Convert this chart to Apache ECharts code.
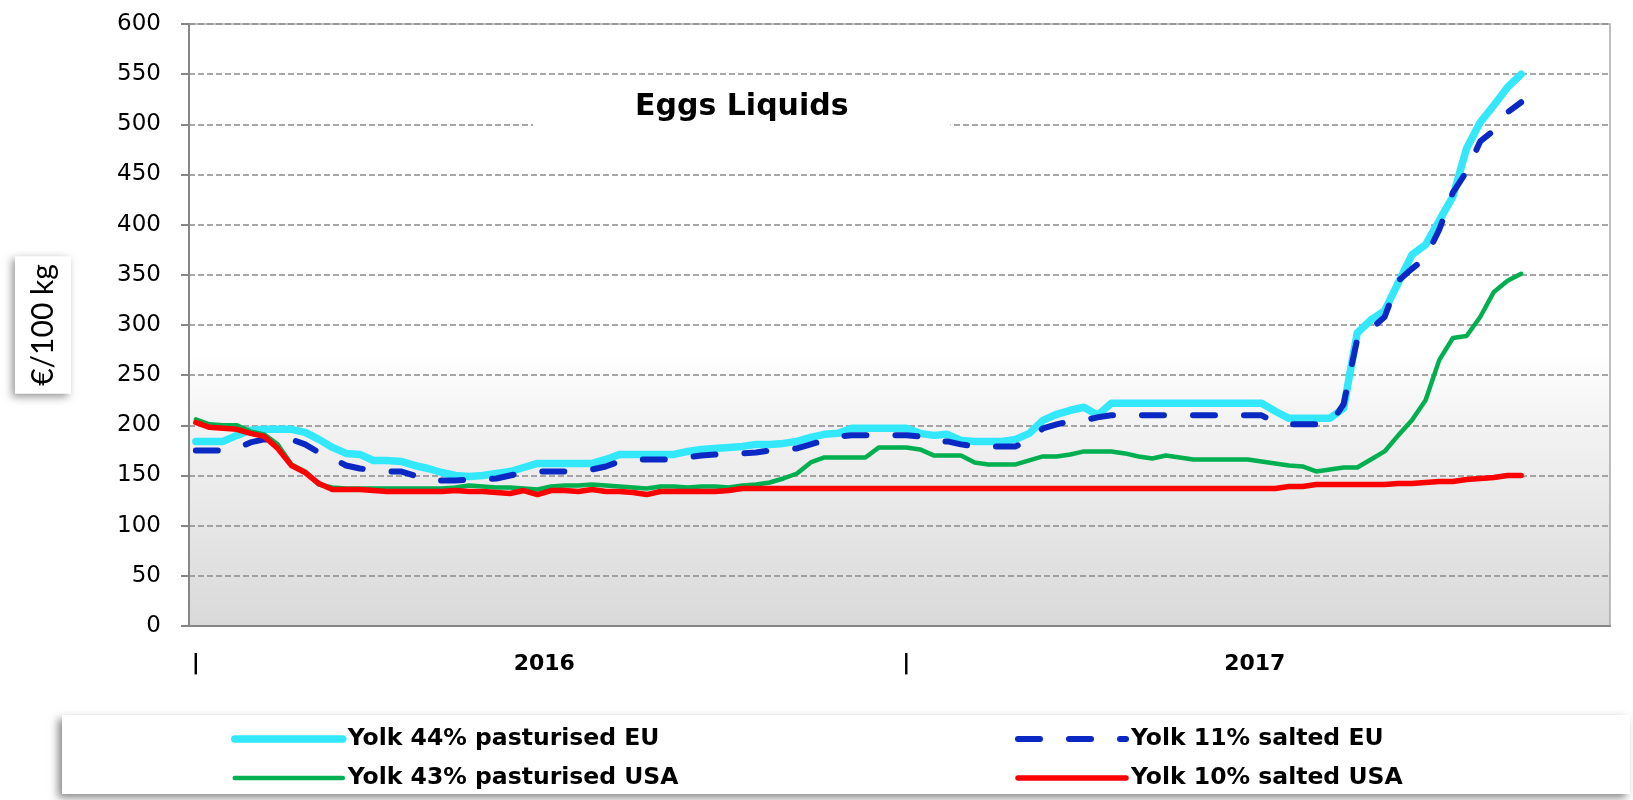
<!DOCTYPE html>
<html>
<head>
<meta charset="utf-8">
<script src="https://cdn.jsdelivr.net/npm/echarts@6/dist/echarts.min.js"></script>
<style>
  html, body { margin: 0; padding: 0; background: #fff; }
  #main { width: 1633px; height: 800px; }
</style>
</head>
<body>
<div id="main"></div>
<script>
// weekly categories, 2016 W1 .. 2017 W52
var years = ['2016', '2017'];
var weeks = [];
years.forEach(function (y) {
  for (var w = 1; w <= 52; w++) weeks.push(y + ' W' + w);
});

var yTicks = { min: 0, max: 600, step: 50 };

// €/100 kg, one value per week from 2016 W1
var yolk44EU = [184,184,184,190,195,196,196,196,193,186,
  178,172,171,165,165,164,160,157,153,150,
  149,150,152,154,158,162,162,162,162,162,
  166,171,171,171,171,171,174,176,177,178,
  179,181,181,182,184,188,191,192,197,197,
  197,197,197,192,190,191,185,184,184,184,
  186,192,205,211,215,218,210,222,222,222,
  222,222,222,222,222,222,222,222,222,214,
  207,207,207,207,217,292,305,314,342,370,
  380,404,428,476,502,519,537,550];

var yolk11EU = [175,175,175,177,183,186,186,186,181,173,
  167,160,157,155,154,154,150,145,145,145,
  146,146,147,150,153,154,154,154,154,156,
  159,164,166,166,166,166,168,170,171,172,
  172,173,175,176,177,181,185,189,190,190,
  190,190,190,189,184,184,181,179,179,179,
  179,186,197,201,204,205,208,210,210,210,
  210,210,210,210,210,210,210,210,210,203,
  201,201,201,201,221,286,296,308,344,356,
  367,395,432,453,483,494,512,522];

var yolk43USA = [206,201,200,200,194,191,181,161,154,141,
  138,137,137,137,137,137,137,137,137,138,
  140,139,138,138,137,136,139,140,140,141,
  140,139,138,137,139,139,138,139,139,138,
  140,141,143,147,152,163,168,168,168,168,
  178,178,178,176,170,170,170,163,161,161,
  161,165,169,169,171,174,174,174,172,169,
  167,170,168,166,166,166,166,166,164,162,
  160,159,154,156,158,158,166,174,190,205,
  225,265,287,289,308,333,344,351];

var yolk10USA = [203,198,197,196,192,189,177,160,153,142,
  136,136,136,135,134,134,134,134,134,135,
  134,134,133,132,135,131,135,135,134,136,
  134,134,133,131,134,134,134,134,134,135,
  137,137,137,137,137,137,137,137,137,137,
  137,137,137,137,137,137,137,137,137,137,
  137,137,137,137,137,137,137,137,137,137,
  137,137,137,137,137,137,137,137,137,137,
  139,139,141,141,141,141,141,141,142,142,
  143,144,144,146,147,148,150,150];

var names = ['Yolk 44% pasturised EU', 'Yolk 11% salted EU', 'Yolk 43% pasturised USA', 'Yolk 10% salted USA'];
var colors = ['#33e8fd', '#0a28c4', '#00b050', '#ff0000'];
var widths = [7.5, 6, 4.5, 5.5];
var dashes = ['solid', [22, 29], 'solid', 'solid'];

var chart = echarts.init(document.getElementById('main'));

var legendText = { fontFamily: 'DejaVu Sans', fontWeight: 'bold', fontSize: 23.5, color: '#000', lineHeight: 28 };

function legendItem(i) {
  return {
    name: names[i],
    itemStyle: { opacity: 0 },
    lineStyle: { width: widths[i], type: dashes[i], cap: 'round', color: colors[i] }
  };
}

function lineSeries(i, data) {
  return {
    name: names[i],
    type: 'line',
    data: data,
    symbol: 'none',
    xAxisIndex: 0,
    itemStyle: { color: colors[i] },
    lineStyle: { color: colors[i], width: widths[i], type: dashes[i], cap: 'round', join: 'round' },
    emphasis: { disabled: true }
  };
}

chart.setOption({
  animation: false,
  backgroundColor: '#fff',
  title: {
    text: 'Eggs Liquids',
    left: 533,
    top: 88,
    padding: [4, 102, 22, 102],
    backgroundColor: '#fff',
    textStyle: { fontFamily: 'DejaVu Sans', fontWeight: 'bold', fontSize: 30, color: '#000' }
  },
  grid: {
    left: 189, right: 23, top: 24, bottom: 174,
    show: true,
    borderColor: '#ababab',
    borderWidth: 1.5,
    backgroundColor: {
      type: 'linear', x: 0, y: 0, x2: 0, y2: 1,
      colorStops: [
        { offset: 0, color: '#ffffff' },
        { offset: 0.55, color: '#ffffff' },
        { offset: 0.66, color: '#f3f3f3' },
        { offset: 1, color: '#d9d9d9' }
      ]
    }
  },
  legend: [
    {
      data: [legendItem(0), legendItem(2)],
      orient: 'vertical',
      left: 231, top: 725,
      padding: 0,
      itemWidth: 108, itemHeight: 28, itemGap: 11,
      textStyle: legendText
    },
    {
      data: [legendItem(1), legendItem(3)],
      orient: 'vertical',
      left: 1015, top: 725,
      padding: 0,
      itemWidth: 108, itemHeight: 28, itemGap: 11,
      textStyle: legendText
    }
  ],
  graphic: [
    {
      type: 'rect',
      shape: { x: 62, y: 715, width: 1568, height: 79 },
      style: { fill: '#fff', shadowBlur: 8, shadowColor: 'rgba(0,0,0,0.45)', shadowOffsetX: -4, shadowOffsetY: 4 }
    }
  ],
  xAxis: [
    {
      type: 'category',
      data: weeks,
      boundaryGap: true,
      axisLine: { lineStyle: { color: '#868686', width: 2 } },
      axisTick: { interval: 4, length: 7, lineStyle: { color: '#868686', width: 2 } },
      axisLabel: {
        interval: 0,
        margin: 26,
        fontFamily: 'DejaVu Sans', fontWeight: 'bold', fontSize: 22, color: '#000',
        formatter: function (v, i) { return (i === 0 || i === 52) ? '|' : ''; }
      },
      splitLine: { show: false }
    },
    {
      type: 'category',
      data: years,
      position: 'bottom',
      boundaryGap: true,
      axisLine: { show: false },
      axisTick: { show: false },
      axisLabel: { margin: 27, fontFamily: 'DejaVu Sans', fontWeight: 'bold', fontSize: 22, color: '#000' },
      splitLine: { show: false }
    }
  ],
  yAxis: {
    type: 'value',
    min: yTicks.min, max: yTicks.max, interval: yTicks.step,
    name: '€/100 kg',
    nameLocation: 'middle',
    nameRotate: 90,
    nameGap: 118,
    nameTextStyle: {
      fontFamily: 'Lato', fontSize: 30, color: '#000',
      backgroundColor: '#fff', padding: [13, 8, 13, 8],
      shadowColor: 'rgba(0,0,0,0.4)', shadowBlur: 8, shadowOffsetX: -3, shadowOffsetY: 3
    },
    axisLine: { show: true, lineStyle: { color: '#868686', width: 2 } },
    axisTick: { show: true, length: 8, lineStyle: { color: '#868686', width: 2 } },
    axisLabel: { margin: 28, fontFamily: 'DejaVu Sans', fontSize: 23, color: '#000' },
    splitLine: { lineStyle: { color: '#8a8a8a', width: 1.5, type: [6, 3] } }
  },
  series: [
    lineSeries(0, yolk44EU),
    lineSeries(1, yolk11EU),
    lineSeries(2, yolk43USA),
    lineSeries(3, yolk10USA)
  ]
});
</script>
</body>
</html>
